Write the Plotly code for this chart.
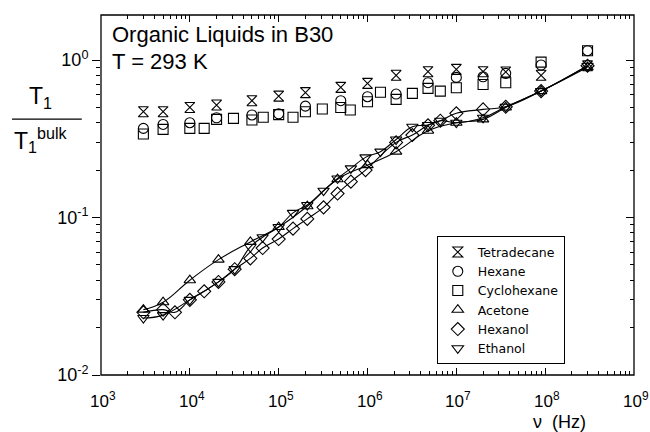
import math
import plotly.graph_objects as go

# ---------------- data ----------------
f_nonpolar = [3e3, 5e3, 1e4, 2e4, 5e4, 1e5, 2e5, 5e5, 1e6, 2.1e6, 4.8e6, 1e7, 2e7, 3.6e7, 9e7, 3e8]
tetradecane = [0.47, 0.47, 0.50, 0.518, 0.552, 0.59, 0.621, 0.671, 0.711, 0.80, 0.843, 0.873, 0.843, 0.84, 0.80, 0.92]
hexane = [0.368, 0.39, 0.40, 0.43, 0.448, 0.456, 0.51, 0.552, 0.585, 0.608, 0.718, 0.776, 0.783, 0.823, 0.93, 1.146]

f_cyclo = [3e3, 5e3, 1e4, 1.45e4, 2e4, 3.1e4, 5e4, 6.7e4, 1e5, 1.45e5, 2e5, 3.1e5, 5e5, 6.4e5,
           1e6, 1.4e6, 2.1e6, 3.2e6, 4.8e6, 6.6e6, 1e7, 2e7, 3.6e7, 9e7, 3e8]
cyclohexane = [0.339, 0.363, 0.368, 0.368, 0.42, 0.426, 0.416, 0.433, 0.45, 0.433, 0.47, 0.489, 0.50, 0.482,
               0.543, 0.624, 0.563, 0.614, 0.661, 0.635, 0.667, 0.70, 0.718, 0.97, 1.146]

f_acetone = [3e3, 5e3, 1e4, 2.1e4, 4.8e4, 1e5, 2.1e5, 4.6e5, 1e6, 2.1e6, 4.8e6, 1e7, 2e7, 3.6e7, 9e7, 3e8]
acetone = [0.026, 0.029, 0.040, 0.054, 0.070, 0.087, 0.118, 0.175, 0.215, 0.262, 0.356, 0.40, 0.42, 0.50, 0.635, 0.90]

f_hexanol = [3e3, 5e3, 6.8e3, 1e4, 1.45e4, 2.1e4, 3.2e4, 4.8e4, 6.6e4, 1e5, 1.45e5, 2.1e5, 3.2e5, 4.6e5,
             6.5e5, 9.5e5, 2.1e6, 3.2e6, 4.8e6, 6.6e6, 1e7, 2e7, 3.6e7, 9e7, 3e8]
hexanol = [0.025, 0.026, 0.025, 0.030, 0.034, 0.039, 0.047, 0.055, 0.064, 0.073, 0.085, 0.098, 0.116, 0.142,
           0.169, 0.20, 0.30, 0.334, 0.385, 0.412, 0.459, 0.486, 0.505, 0.635, 0.92]

f_ethanol = [3e3, 5e3, 1e4, 2.1e4, 3.2e4, 4.8e4, 6.6e4, 1e5, 1.45e5, 2.1e5, 3.2e5, 4.6e5, 6.5e5, 9.5e5,
             1.4e6, 2.1e6, 3.2e6, 4.8e6, 6.6e6, 1e7, 2e7, 3.6e7, 9e7, 3e8]
ethanol = [0.023, 0.024, 0.030, 0.039, 0.047, 0.065, 0.075, 0.087, 0.107, 0.12, 0.148, 0.177, 0.205, 0.241,
           0.262, 0.313, 0.377, 0.387, 0.412, 0.40, 0.43, 0.505, 0.635, 0.92]

x_tickvals = [1e3, 1e4, 1e5, 1e6, 1e7, 1e8, 1e9]
x_ticktext = ["10<sup>3</sup>", "10<sup>4</sup>", "10<sup>5</sup>", "10<sup>6</sup>",
              "10<sup>7</sup>", "10<sup>8</sup>", "10<sup>9</sup>"]
y_tickvals = [1e-2, 1e-1, 1e0]
y_ticktext = ["10<sup>-2</sup>", "10<sup>-1</sup>", "10<sup>0</sup>"]

# minor tick positions (2..9 within each decade)
x_minor = [m * 10 ** k for k in range(3, 9) for m in range(2, 10)]
y_minor = [m * 10 ** k for k in range(-2, 1) for m in range(2, 10)]

# ---------------- figure ----------------
fig = go.Figure()

for fx, fy in [(f_acetone, acetone), (f_hexanol, hexanol), (f_ethanol, ethanol)]:
    fig.add_trace(go.Scatter(x=fx, y=fy, mode="lines",
                             line=dict(color="black", width=1.1, shape="spline", smoothing=1.2),
                             showlegend=False, hoverinfo="skip"))

series = [
    ("Tetradecane", f_nonpolar, tetradecane, "hourglass-open"),
    ("Hexane", f_nonpolar, hexane, "circle-open"),
    ("Cyclohexane", f_cyclo, cyclohexane, "square-open"),
    ("Acetone", f_acetone, acetone, "triangle-up-open"),
    ("Hexanol", f_hexanol, hexanol, "diamond-open"),
    ("Ethanol", f_ethanol, ethanol, "triangle-down-open"),
]
for name, fx, fy, sym in series:
    fig.add_trace(go.Scatter(x=fx, y=fy, mode="markers", name=name,
                             marker=dict(symbol=sym, size=10, color="black",
                                         line=dict(color="black", width=1.1))))

# invisible trace to activate mirrored axes (top / right ticks)
fig.add_trace(go.Scatter(x=[1e3], y=[1], xaxis="x2", yaxis="y2", mode="markers",
                         marker=dict(opacity=0), showlegend=False, hoverinfo="skip"))

axis_font = dict(family="Liberation Sans, Arial, sans-serif", size=18, color="black")
common = dict(showline=False, showgrid=False, zeroline=False, tickcolor="black", tickwidth=1)

fig.update_layout(
    width=650, height=432,
    margin=dict(l=101, r=16, t=15, b=57),
    paper_bgcolor="white", plot_bgcolor="white",
    font=dict(family="Liberation Sans, Arial, sans-serif", color="black"),
    xaxis=dict(type="log", range=[3, 9], tickvals=x_tickvals, showticklabels=False,
               ticks="inside", ticklen=7,
               minor=dict(tickmode="array", tickvals=x_minor, ticks="inside", ticklen=4,
                          tickcolor="black", showgrid=False),
               **common),
    yaxis=dict(type="log", range=[-2, 0.286], tickvals=y_tickvals, ticktext=y_ticktext,
               ticks="outside", ticklen=8,
               minor=dict(tickmode="array", tickvals=y_minor, ticks="outside", ticklen=4,
                          tickcolor="black", showgrid=False),
               tickfont=axis_font, **common),
    xaxis2=dict(type="log", range=[3, 9], overlaying="x", side="top", tickvals=x_tickvals,
                showticklabels=False, ticks="inside", ticklen=7,
                minor=dict(tickmode="array", tickvals=x_minor, ticks="inside", ticklen=4,
                           tickcolor="black", showgrid=False),
                **common),
    yaxis2=dict(type="log", range=[-2, 0.286], overlaying="y", side="right", tickvals=y_tickvals,
                showticklabels=False, ticks="inside", ticklen=8,
                minor=dict(tickmode="array", tickvals=y_minor, ticks="inside", ticklen=4,
                           tickcolor="black", showgrid=False),
                **common),
    legend=dict(x=0.63, y=0.385, xanchor="left", yanchor="top", bgcolor="white",
                bordercolor="black", borderwidth=1,
                font=dict(family="DejaVu Sans, sans-serif", size=12.5, color="black"),
                tracegroupgap=0, itemwidth=30),
)

# plot frame
fig.add_shape(type="rect", xref="paper", yref="paper", x0=0, x1=1, y0=0, y1=1,
              line=dict(color="black", width=1.3), layer="above")

# x tick labels: "10" roughly centred on the tick, exponent to the right
for v, t in zip(x_tickvals, x_ticktext):
    fig.add_annotation(text=t, x=math.log10(v), xref="x", y=0, yref="paper",
                       xanchor="left", yanchor="top", xshift=-13, yshift=-12,
                       showarrow=False, font=dict(family="Liberation Sans, Arial, sans-serif",
                                                  size=17, color="black"))

# y-axis label as a fraction
fig.add_annotation(text="T<sub>1</sub>", xref="paper", yref="paper", x=-0.113, y=0.772,
                   showarrow=False, font=dict(size=23, color="black"), xanchor="center", yanchor="middle")
fig.add_shape(type="line", xref="paper", yref="paper", x0=-0.167, x1=-0.036, y0=0.711, y1=0.711,
              line=dict(color="black", width=1.2))
fig.add_annotation(text="T<sub>1</sub><sup>bulk</sup>", xref="paper", yref="paper", x=-0.113, y=0.654,
                   showarrow=False, font=dict(size=23, color="black"), xanchor="center", yanchor="middle")

# x title
fig.add_annotation(text="\u03bd  (Hz)", xref="paper", yref="paper", x=0.86, y=-0.13,
                   showarrow=False, font=dict(size=18, color="black"), xanchor="center", yanchor="middle")

# inner titles
fig.add_annotation(text="Organic Liquids in B30", xref="paper", yref="paper", x=0.017, y=0.985,
                   showarrow=False, font=dict(size=22, color="black"), xanchor="left", yanchor="top")
fig.add_annotation(text="T = 293 K", xref="paper", yref="paper", x=0.017, y=0.9125,
                   showarrow=False, font=dict(size=22, color="black"), xanchor="left", yanchor="top")

# remove the default page margin so the figure fills the 650x432 window exactly
fig.write_html("out.html",
               config={"displayModeBar": False},
               post_script="document.body.style.margin='0';document.body.style.overflow='hidden';")
